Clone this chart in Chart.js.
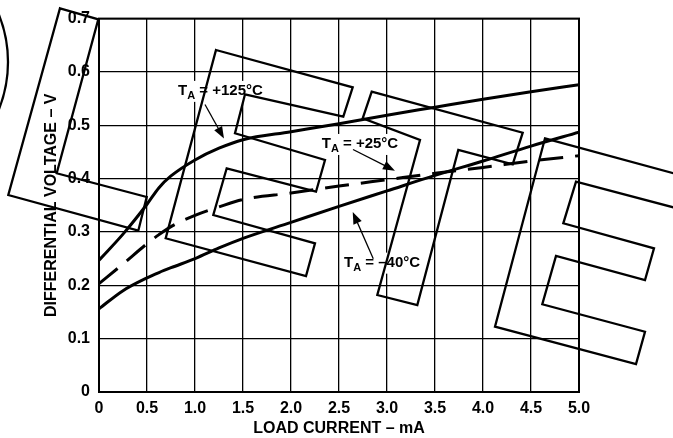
<!DOCTYPE html>
<html><head><meta charset="utf-8">
<style>html,body{margin:0;padding:0;background:#fff;}#wrap{width:673px;height:438px;}</style>
<script src="https://cdn.jsdelivr.net/npm/chart.js@4.4.1/dist/chart.umd.min.js"></script>
</head><body><div id="wrap"><canvas id="c" width="673" height="438"></canvas></div>
<script>
// ---- data ----
const loadCurrent = [0, 0.25, 0.5, 0.625, 0.75, 1.0, 1.25, 1.5, 2.0, 2.5, 3.0, 3.5, 4.0, 4.5, 5.0];
const voltsP125  = [0.247, 0.296, 0.352, 0.383, 0.405, 0.435, 0.457, 0.473, 0.488, 0.503, 0.519, 0.534, 0.549, 0.563, 0.576];
const voltsP25   = [0.203, 0.240, 0.278, 0.295, 0.310, 0.331, 0.347, 0.361, 0.373, 0.386, 0.398, 0.410, 0.421, 0.433, 0.443];
const voltsM40   = [0.156, 0.190, 0.214, 0.224, 0.233, 0.250, 0.270, 0.288, 0.318, 0.348, 0.377, 0.406, 0.433, 0.461, 0.487];
const xTickLabels = ['0', '0.5', '1.0', '1.5', '2.0', '2.5', '3.0', '3.5', '4.0', '4.5', '5.0'];
const yTickLabels = ['0', '0.1', '0.2', '0.3', '0.4', '0.5', '0.6', '0.7'];
const seriesNames = [' = +125°C', ' = +25°C', ' = –40°C'];
const xTitle = 'LOAD CURRENT – mA';
const yTitle = 'DIFFERENTIAL VOLTAGE – V';

const FONT = "'Liberation Sans', Arial, Helvetica, sans-serif";
const pts = (ys) => loadCurrent.map((x, i) => ({x: x, y: ys[i]}));

// annotation anchors in data units: [textX, textY(baseline), arrowFromX, arrowFromY, arrowToX, arrowToY]
const annotAnchors = [
  [0.823, 0.557, 1.104, 0.539, 1.302, 0.475],
  [2.320, 0.4575, 2.646, 0.4546, 3.083, 0.415],
  [2.552, 0.235, 2.857, 0.250, 2.643, 0.3376]
];

const annotPlugin = {
  id: 'annot',
  beforeDatasetsDraw(chart) {
    const {ctx, chartArea: a} = chart;
    ctx.save();
    ctx.strokeStyle = '#000';
    ctx.lineWidth = 2;
    ctx.strokeRect(a.left, a.top, a.right - a.left, a.bottom - a.top);
    ctx.restore();
  },
  afterDatasetsDraw(chart) {
    const {ctx} = chart;
    const xs = chart.scales.x, ys = chart.scales.y;
    ctx.save();
    annotAnchors.forEach((an, i) => {
      const tx = xs.getPixelForValue(an[0]), ty = ys.getPixelForValue(an[1]);
      ctx.font = 'bold 15px ' + FONT;
      const wT = ctx.measureText('T').width;
      ctx.font = 'bold 11px ' + FONT;
      const wA = ctx.measureText('A').width;
      ctx.font = 'bold 15px ' + FONT;
      const wR = ctx.measureText(seriesNames[i]).width;
      const total = wT + wA + wR;
      ctx.fillStyle = '#fff';
      ctx.fillRect(tx - 3, ty - 14, total + 6, 21);
      ctx.fillStyle = '#000';
      ctx.textBaseline = 'alphabetic';
      ctx.textAlign = 'left';
      ctx.fillText('T', tx, ty);
      ctx.font = 'bold 11px ' + FONT;
      ctx.fillText('A', tx + wT, ty + 4);
      ctx.font = 'bold 15px ' + FONT;
      ctx.fillText(seriesNames[i], tx + wT + wA, ty);
      // arrow
      const x1 = xs.getPixelForValue(an[2]), y1 = ys.getPixelForValue(an[3]);
      const x2 = xs.getPixelForValue(an[4]), y2 = ys.getPixelForValue(an[5]);
      const ang = Math.atan2(y2 - y1, x2 - x1);
      const L = 12, W = 4.5;
      ctx.strokeStyle = '#000';
      ctx.lineWidth = 1.3;
      ctx.beginPath();
      ctx.moveTo(x1, y1);
      ctx.lineTo(x2 - Math.cos(ang) * L * 0.8, y2 - Math.sin(ang) * L * 0.8);
      ctx.stroke();
      ctx.beginPath();
      ctx.moveTo(x2, y2);
      ctx.lineTo(x2 - Math.cos(ang) * L - Math.sin(ang) * W, y2 - Math.sin(ang) * L + Math.cos(ang) * W);
      ctx.lineTo(x2 - Math.cos(ang) * L + Math.sin(ang) * W, y2 - Math.sin(ang) * L - Math.cos(ang) * W);
      ctx.closePath();
      ctx.fillStyle = '#000';
      ctx.fill();
    });
    ctx.restore();
  }
};

// decorative "OBSOLETE"-style outline watermark (page decoration, not data)
const watermarkPlugin = {
  id: 'watermark',
  afterDraw(chart) {
    const ctx = chart.ctx;
    const shapes = [
      [[60,8.3],[98.3,19.3],[56.7,173.3],[146.7,197],[138.3,230.7],[8.3,195]],
      [[216,50],[352.7,87.3],[343.3,116.7],[245,94.3],[235,133.3],[325,160],[316,191.7],[226.7,168.3],[213.3,215],[315,243.3],[306,276],[165.7,238.3]],
      [[371.7,91.7],[522.7,132.7],[512.7,164.3],[458.3,150],[417.3,305],[377.3,295],[420,140],[362.7,118.3]],
      [[545,138.3],[700,180.5],[691,212],[576,181.7],[563.3,223.3],[654,248.3],[645,280],[556,256],[542.3,304.3],[645,331.7],[636,364],[495,326.7]]
    ];
    ctx.save();
    ctx.strokeStyle = '#000';
    ctx.lineWidth = 2.3;
    ctx.lineJoin = 'miter';
    shapes.forEach(s => {
      ctx.beginPath();
      s.forEach((p, i) => i ? ctx.lineTo(p[0], p[1]) : ctx.moveTo(p[0], p[1]));
      ctx.closePath();
      ctx.stroke();
    });
    ctx.beginPath();
    ctx.arc(-120, 62, 128, -0.4, 0.4);
    ctx.stroke();
    ctx.restore();
  }
};

new Chart(document.getElementById('c'), {
  type: 'line',
  data: {
    datasets: [
      {label: 'TA = +125°C', data: pts(voltsP125), borderColor: '#000', borderWidth: 3, pointRadius: 0, cubicInterpolationMode: 'monotone', fill: false},
      {label: 'TA = +25°C', data: pts(voltsP25), borderColor: '#000', borderWidth: 3, borderDash: [24, 12], pointRadius: 0, cubicInterpolationMode: 'monotone', fill: false},
      {label: 'TA = –40°C', data: pts(voltsM40), borderColor: '#000', borderWidth: 3, pointRadius: 0, cubicInterpolationMode: 'monotone', fill: false}
    ]
  },
  options: {
    responsive: false,
    devicePixelRatio: 1,
    animation: false,
    layout: {padding: {left: 0, top: 9, right: 94, bottom: 0}},
    plugins: {legend: {display: false}, tooltip: {enabled: false}},
    scales: {
      x: {
        type: 'linear', min: 0, max: 5,
        afterFit(s) { s.height = 46; },
        afterBuildTicks(s) { s.ticks = xTickLabels.map(t => ({value: parseFloat(t)})); },
        ticks: {color: '#000', font: {family: FONT, size: 16, weight: 'bold'}, padding: 7, maxRotation: 0,
          callback: (v, i) => xTickLabels[i]},
        grid: {color: '#000', lineWidth: 1.3, drawTicks: false},
        border: {display: true, color: '#000', width: 2},
        title: {display: true, text: xTitle, color: '#000', font: {family: FONT, size: 16, weight: 'bold'}, padding: {top: 0, bottom: 0}}
      },
      y: {
        type: 'linear', min: 0, max: 0.7,
        afterFit(s) { s.width = 99; },
        afterBuildTicks(s) { s.ticks = yTickLabels.map(t => ({value: parseFloat(t)})); },
        ticks: {color: '#000', font: {family: FONT, size: 16, weight: 'bold'}, padding: 9,
          callback: (v, i) => yTickLabels[i]},
        grid: {color: '#000', lineWidth: 1.3, drawTicks: false},
        border: {display: true, color: '#000', width: 2},
        title: {display: true, text: yTitle, color: '#000', font: {family: FONT, size: 16, weight: 'bold'}, padding: {top: 42, bottom: 0}}
      }
    }
  },
  plugins: [annotPlugin, watermarkPlugin]
});
</script>
</body></html>
